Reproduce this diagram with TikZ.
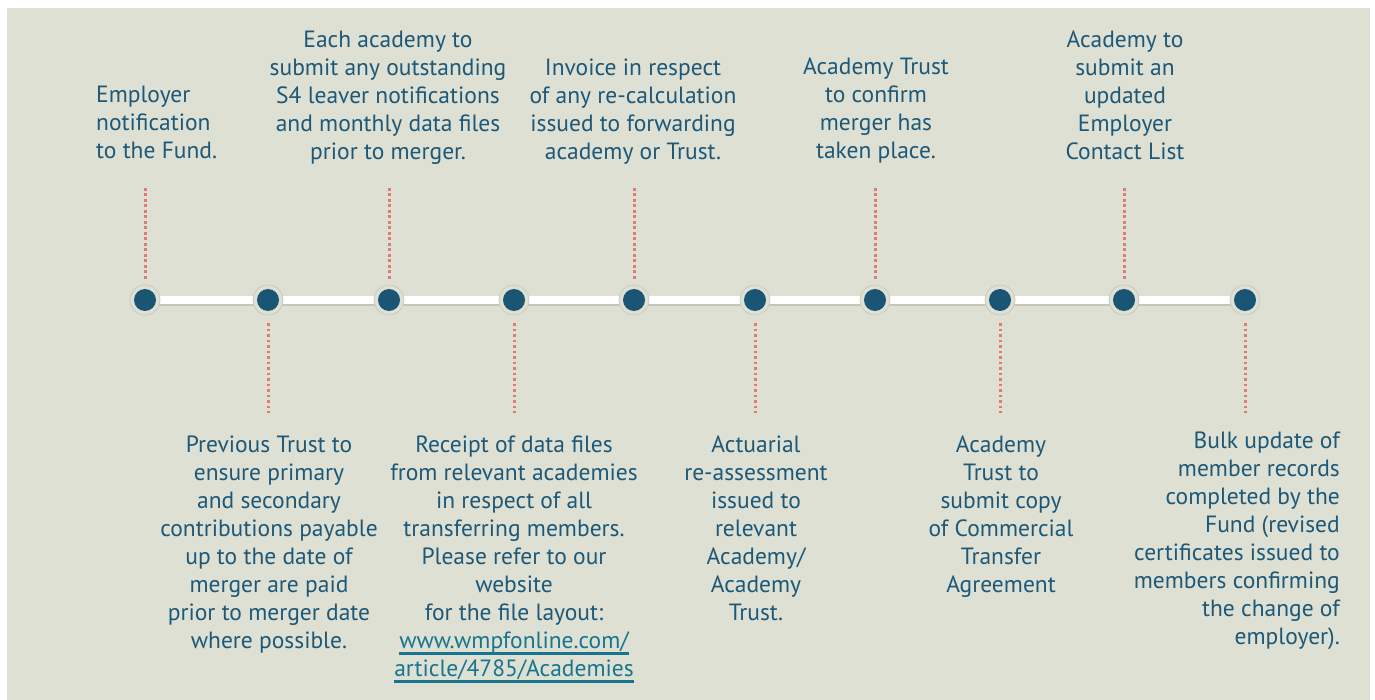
\documentclass[tikz,border=0pt]{standalone}
\usepackage{fontspec}
\setmainfont{PT Sans}
\definecolor{bgc}{HTML}{DDE0D3}
\definecolor{txt}{HTML}{1D5878}
\definecolor{lnk}{HTML}{17768E}
\definecolor{dotc}{HTML}{1B5574}
\definecolor{halo}{HTML}{C6C9BD}
\definecolor{conn}{HTML}{E07A74}
\definecolor{shadowc}{HTML}{C4C7BA}
\newcommand\ulnk[1]{\begingroup\setbox0\hbox{#1}\rlap{\copy0}\rule[-6pt]{\wd0}{2.5pt}\endgroup}
\begin{document}
\begin{tikzpicture}[x=1pt,y=-1pt,
  lbl/.style={inner sep=0pt, text=txt, font=\fontsize{23.5}{28}\selectfont},
  stage/.style={circle, fill=dotc, minimum size=22pt, inner sep=0pt},
  halobox/.style={draw=halo, fill=bgc, line width=0.7pt},
  conn/.style={draw=conn, line width=3pt, dash pattern=on 2.6pt off 2.9pt}
]
\useasboundingbox (0,0) rectangle (1375,700);
\fill[bgc] (7,8) rectangle (1370,700);
% bar
\coordinate (b1) at (145,300);
\coordinate (b2) at (1245,300);
\draw[shadowc, line width=9.5pt] (145,301.5) -- (1245,301.5);
\draw[white, line width=8.5pt] (b1) -- (b2);
% stages
\foreach \i/\x in {1/145,2/268,3/389,4/514,5/634,6/755,7/875,8/1000,9/1124,10/1245}{
  \draw[halobox] (\x,300) circle (15);
  \node[stage] (s\i) at (\x,300) {};
}
% connectors
\foreach \i/\x in {1/145,3/389,5/634,7/875,9/1124}{
  \coordinate (t\i) at (\x,188);
  \draw[conn, shorten >=10pt] (t\i) -- (s\i.north);
}
\foreach \i/\x in {2/268,4/514,6/755,8/1000,10/1245}{
  \coordinate (u\i) at (\x,413);
  \draw[conn, shorten <=12pt] (s\i.south) -- (u\i);
}
% labels
\node[lbl, anchor=north west, align=left] (l1) at (96,86) {Employer\\notification\\to the Fund.};
\node[lbl, anchor=north, align=center] (l3) at (388,31) {Each academy to\\submit any outstanding\\S4 leaver notifications\\and monthly data files\\prior to merger.};
\node[lbl, anchor=north, align=center] (l5) at (633,59) {Invoice in respect\\of any re-calculation\\issued to forwarding\\academy or Trust.};
\node[lbl, anchor=north, align=center] (l7) at (876,58) {Academy Trust\\to confirm\\merger has\\taken place.};
\node[lbl, anchor=north, align=center] (l9) at (1125,31) {Academy to\\submit an\\updated\\Employer\\Contact List};
\node[lbl, anchor=north, align=center] (l2) at (269,436) {Previous Trust to\\ensure primary\\and secondary\\contributions payable\\up to the date of\\merger are paid\\prior to merger date\\where possible.};
\node[lbl, anchor=north, align=center] (l4) at (514,436) {Receipt of data files\\from relevant academies\\in respect of all\\transferring members.\\Please refer to our\\website\\for the file layout:\\{\color{lnk}\ulnk{www.wmpfonline.com/}}\\{\color{lnk}\ulnk{article/4785/Academies}}};
\node[lbl, anchor=north, align=center] (l6) at (756,436) {Actuarial\\re-assessment\\issued to\\relevant\\Academy/\\Academy\\Trust.};
\node[lbl, anchor=north, align=center] (l8) at (1001,436) {Academy\\Trust to\\submit copy\\of Commercial\\Transfer\\Agreement};
\node[lbl, anchor=north east, align=right] (l10) at (1340,432) {Bulk update of\\member records\\completed by the\\Fund (revised\\certificates issued to\\members confirming\\the change of\\employer).};
\end{tikzpicture}
\end{document}
